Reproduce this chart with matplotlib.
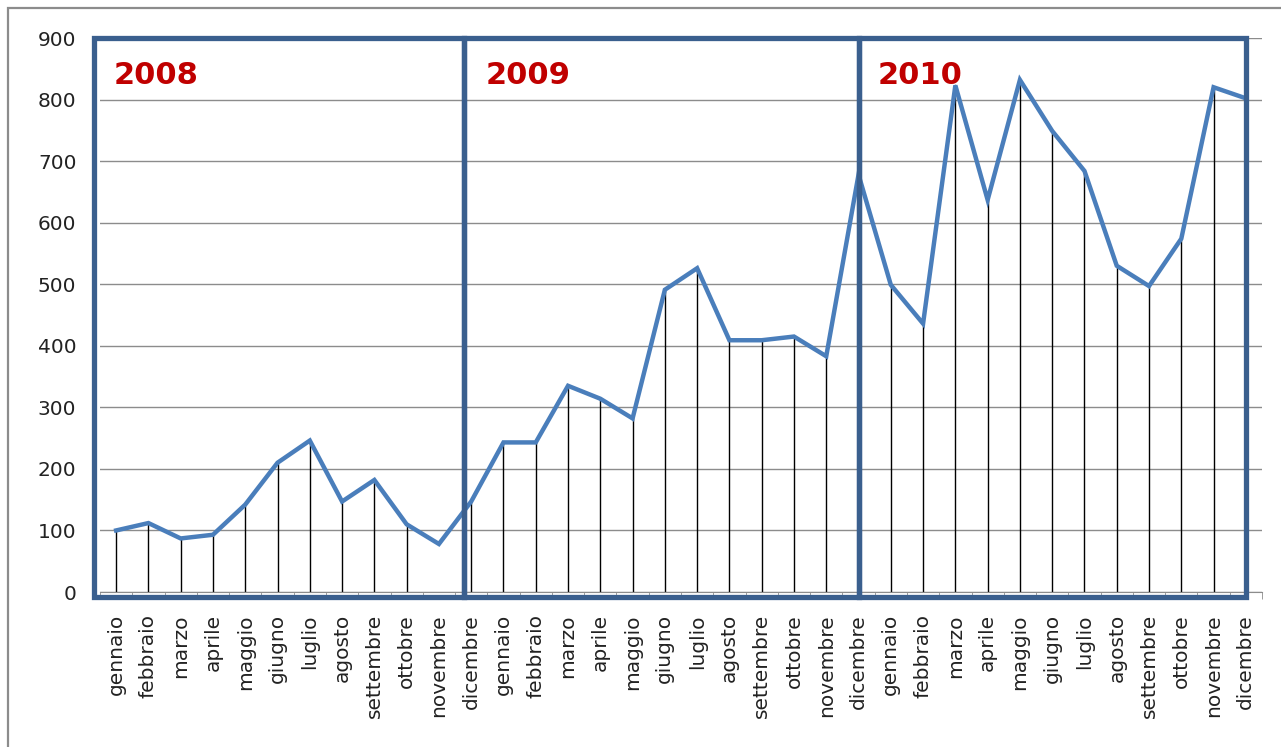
import numpy as np
import matplotlib.pyplot as plt
from matplotlib.patches import Rectangle

mesi = ['gennaio', 'febbraio', 'marzo', 'aprile', 'maggio', 'giugno', 'luglio',
        'agosto', 'settembre', 'ottobre', 'novembre', 'dicembre']
anni = ['2008', '2009', '2010']
etichette = mesi * 3

v2008 = [100, 112, 87, 93, 142, 210, 246, 147, 182, 110, 78, 147]
v2009 = [243, 243, 335, 314, 282, 491, 526, 409, 409, 415, 383, 678]
v2010 = [499, 436, 823, 637, 832, 749, 684, 530, 497, 574, 820, 802]
valori = v2008 + v2009 + v2010

x = np.arange(len(valori))

fig = plt.figure(figsize=(12.81, 7.47), dpi=100)
ax = fig.add_axes([100 / 1281, 1 - 592 / 747, 1162 / 1281, 554 / 747])

# cornice grigia del grafico
fig.patches.append(Rectangle((8 / 1281, -0.1), 1.2, 1 - 8 / 747 + 0.1,
                             transform=fig.transFigure, fill=False,
                             edgecolor='#8c8c8c', linewidth=1.6))

ax.set_xlim(-0.5, 35.5)
ax.set_ylim(0, 900)
ax.set_yticks(range(0, 901, 100))
ax.grid(axis='y', color='#8c8c8c', linewidth=1)
ax.set_axisbelow(True)

# linee verticali fino a zero (manca quella di novembre 2008)
for i, v in zip(x, valori):
    if i == 10:
        continue
    ax.plot([i, i], [0, v], color='black', linewidth=1, zorder=2)

ax.plot(x, valori, color='#4a7ebb', linewidth=3.2, zorder=3,
        solid_joinstyle='miter')

# riquadri per anno
bordi = [-0.68, 10.78, 23.0, 35.0]
for a, b in zip(bordi[:-1], bordi[1:]):
    ax.add_patch(Rectangle((a, -8), b - a, 908, fill=False,
                           edgecolor='#3a5f8e', linewidth=3.8,
                           clip_on=False, zorder=4, joinstyle='miter'))

pos_anni = [-0.09, 11.44, 23.6]
for xa, anno in zip(pos_anni, anni):
    ax.text(xa, 825, anno, color='#c00000', fontsize=22, fontweight='bold',
            ha='left', va='baseline', zorder=5)

ax.set_xticks(x)
ax.set_xticklabels(etichette, rotation=90, fontsize=14.5, va='top')
ax.set_xticks(np.arange(-0.5, 36, 1), minor=True)
ax.tick_params(axis='x', which='major', length=0, pad=16, labelcolor='#222222')
ax.tick_params(axis='x', which='minor', length=5, color='#8c8c8c')
ax.tick_params(axis='y', length=0, pad=17, labelsize=14.5, labelcolor='#222222')

for s in ['top', 'right', 'left']:
    ax.spines[s].set_visible(False)
ax.spines['bottom'].set_color('#8c8c8c')

fig.savefig('out.png', dpi=100)
